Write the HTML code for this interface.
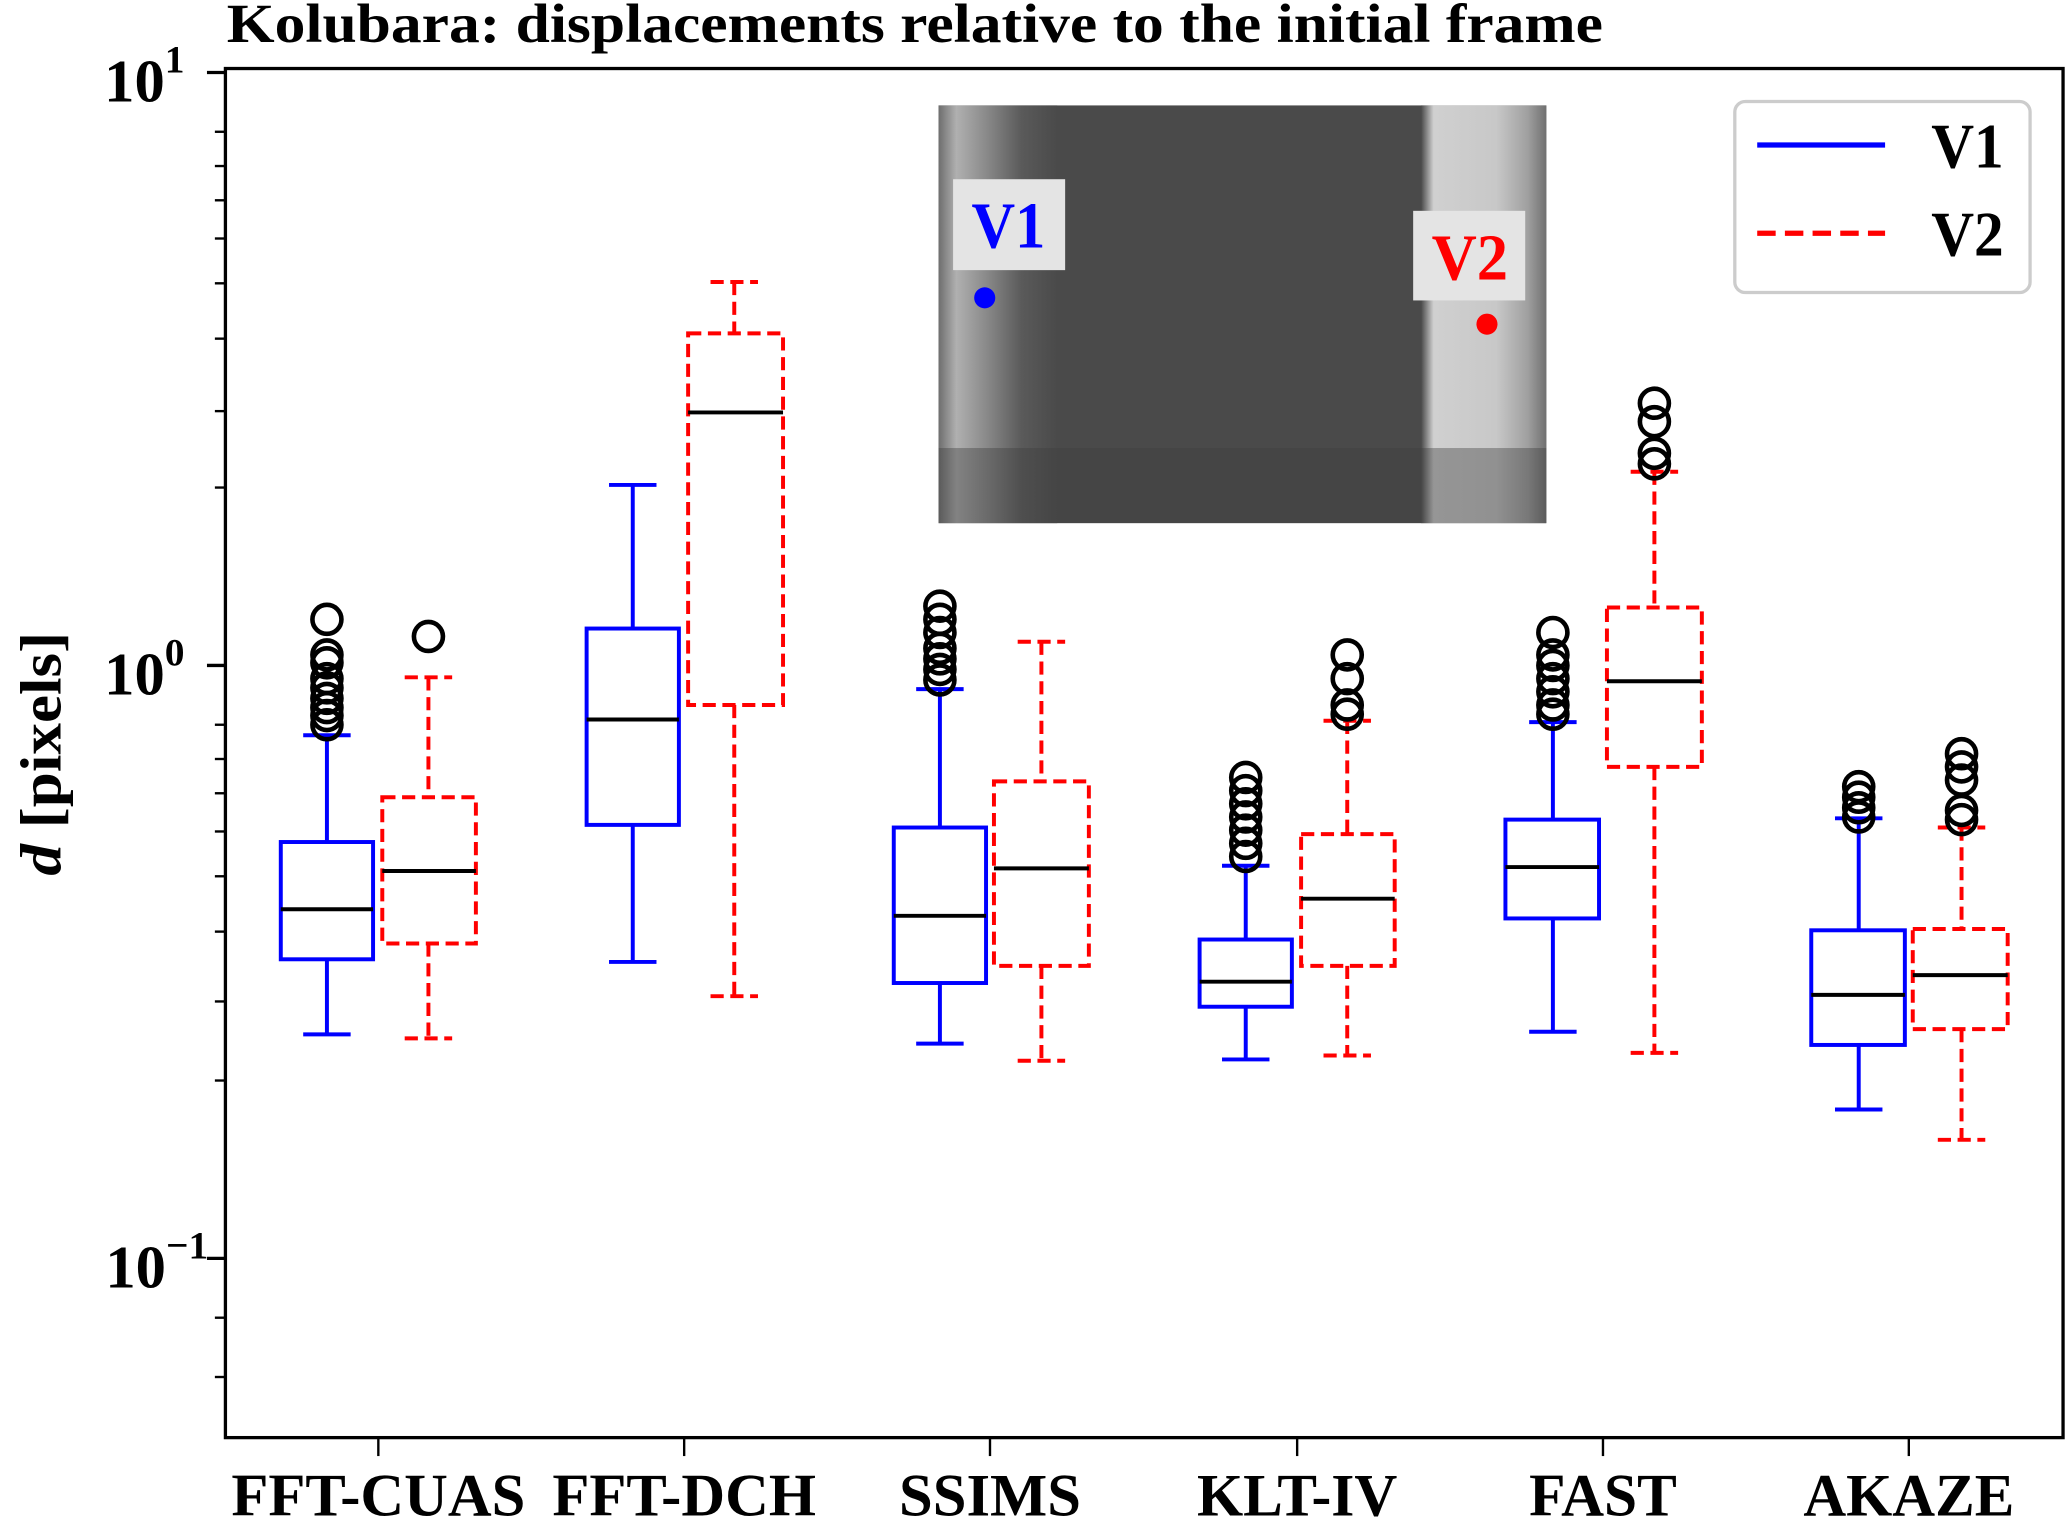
<!DOCTYPE html>
<html><head><meta charset="utf-8"><style>html,body{margin:0;padding:0;background:#fff}svg{display:block}</style></head>
<body>
<svg width="2067" height="1518" viewBox="0 0 1568 1152" preserveAspectRatio="none" xmlns="http://www.w3.org/2000/svg" font-family="Liberation Serif, serif" font-weight="bold">
<defs>
<linearGradient id="lw" x1="0" x2="1"><stop offset="0" stop-color="#6e6e6e"/><stop offset="0.15" stop-color="#b0b0b0"/><stop offset="0.4" stop-color="#8a8a8a"/><stop offset="0.7" stop-color="#5a5a5a"/><stop offset="1" stop-color="#4a4a4a"/></linearGradient>
<linearGradient id="rw" x1="0" x2="1"><stop offset="0" stop-color="#4a4a4a"/><stop offset="0.1" stop-color="#d0d0d0"/><stop offset="0.6" stop-color="#c8c8c8"/><stop offset="0.85" stop-color="#a0a0a0"/><stop offset="1" stop-color="#707070"/></linearGradient>
</defs>
<text x="172" y="32" font-size="42" textLength="1044" lengthAdjust="spacingAndGlyphs">Kolubara: displacements relative to the initial frame</text>
<!-- inset -->
<rect x="712" y="80" width="461" height="317" fill="#4a4a4a"/>
<rect x="712" y="80" width="90" height="317" fill="url(#lw)"/>
<rect x="1078" y="80" width="95" height="317" fill="url(#rw)"/>
<rect x="712" y="340" width="461" height="57" fill="#3f3f3f" opacity="0.4"/>
<rect x="723" y="136" width="85" height="69" fill="#e4e4e4"/>
<text x="765" y="188" font-size="50" fill="#0000ff" text-anchor="middle" textLength="56" lengthAdjust="spacingAndGlyphs">V1</text>
<circle cx="747" cy="226" r="8" fill="#0000ff"/>
<rect x="1072" y="160" width="85" height="68" fill="#e4e4e4"/>
<text x="1115" y="212" font-size="50" fill="#ff0000" text-anchor="middle" textLength="58" lengthAdjust="spacingAndGlyphs">V2</text>
<circle cx="1128" cy="246" r="8" fill="#ff0000"/>
<!-- axes -->
<rect x="171" y="52" width="1394" height="1039" fill="none" stroke="#000" stroke-width="2.5"/>
<g stroke="#000" stroke-width="2.5">
<line x1="157" y1="55" x2="171" y2="55"/><line x1="157" y1="505" x2="171" y2="505"/><line x1="157" y1="955" x2="171" y2="955"/>
</g>
<g stroke="#000" stroke-width="1.8">
<line x1="163" y1="100" x2="171" y2="100"/><line x1="163" y1="126" x2="171" y2="126"/><line x1="163" y1="152" x2="171" y2="152"/><line x1="163" y1="181" x2="171" y2="181"/><line x1="163" y1="215" x2="171" y2="215"/><line x1="163" y1="257" x2="171" y2="257"/><line x1="163" y1="312" x2="171" y2="312"/><line x1="163" y1="370" x2="171" y2="370"/>
<line x1="163" y1="550" x2="171" y2="550"/><line x1="163" y1="576" x2="171" y2="576"/><line x1="163" y1="602" x2="171" y2="602"/><line x1="163" y1="631" x2="171" y2="631"/><line x1="163" y1="665" x2="171" y2="665"/><line x1="163" y1="707" x2="171" y2="707"/><line x1="163" y1="760" x2="171" y2="760"/><line x1="163" y1="820" x2="171" y2="820"/>
<line x1="163" y1="1045" x2="171" y2="1045"/><line x1="163" y1="1000" x2="171" y2="1000"/>
<line x1="287" y1="1091" x2="287" y2="1105"/><line x1="519" y1="1091" x2="519" y2="1105"/><line x1="751" y1="1091" x2="751" y2="1105"/><line x1="984" y1="1091" x2="984" y2="1105"/><line x1="1216" y1="1091" x2="1216" y2="1105"/><line x1="1448" y1="1091" x2="1448" y2="1105"/>
</g>
<g font-size="46" text-anchor="end">
<text x="140" y="77">10<tspan font-size="30" dy="-22">1</tspan></text>
<text x="140" y="527">10<tspan font-size="30" dy="-22">0</tspan></text>
<text x="158" y="977">10<tspan font-size="30" dy="-22">−1</tspan></text>
</g>
<g font-size="46" text-anchor="middle" lengthAdjust="spacingAndGlyphs">
<text x="287" y="1150" textLength="223" lengthAdjust="spacingAndGlyphs">FFT-CUAS</text><text x="519" y="1150" textLength="200" lengthAdjust="spacingAndGlyphs">FFT-DCH</text><text x="751" y="1150" textLength="138" lengthAdjust="spacingAndGlyphs">SSIMS</text><text x="984" y="1150" textLength="152" lengthAdjust="spacingAndGlyphs">KLT-IV</text><text x="1216" y="1150" textLength="112" lengthAdjust="spacingAndGlyphs">FAST</text><text x="1448" y="1150" textLength="160" lengthAdjust="spacingAndGlyphs">AKAZE</text>
</g>
<text transform="translate(46,572) rotate(-90)" font-size="44" text-anchor="middle" textLength="185" lengthAdjust="spacingAndGlyphs"><tspan font-style="italic">d</tspan> [pixels]</text>
<!-- V1 boxes -->
<g stroke="#0000ff" stroke-width="3" fill="none">
<path d="M248 558V639M248 728V785M230 558H266M230 785H266"/><rect x="213" y="639" width="70" height="89"/>
<path d="M480 368V477M480 626V730M462 368H498M462 730H498"/><rect x="445" y="477" width="70" height="149"/>
<path d="M713 523V628M713 746V792M695 523H731M695 792H731"/><rect x="678" y="628" width="70" height="118"/>
<path d="M945 657V713M945 764V804M927 657H963M927 804H963"/><rect x="910" y="713" width="70" height="51"/>
<path d="M1178 548V622M1178 697V783M1160 548H1196M1160 783H1196"/><rect x="1142" y="622" width="71" height="75"/>
<path d="M1410 621V706M1410 793V842M1392 621H1428M1392 842H1428"/><rect x="1374" y="706" width="71" height="87"/>
</g>
<!-- V2 boxes -->
<g stroke="#ff0000" stroke-width="3" fill="none" stroke-dasharray="10,5">
<path d="M325 514V605M325 716V788M307 514H343M307 788H343"/><rect x="290" y="605" width="71" height="111"/>
<path d="M557 214V253M557 535V756M539 214H575M539 756H575"/><rect x="522" y="253" width="72" height="282"/>
<path d="M790 487V593M790 733V805M772 487H808M772 805H808"/><rect x="754" y="593" width="72" height="140"/>
<path d="M1022 547V633M1022 733V801M1004 547H1040M1004 801H1040"/><rect x="987" y="633" width="71" height="100"/>
<path d="M1255 358V461M1255 582V799M1237 358H1273M1237 799H1273"/><rect x="1219" y="461" width="72" height="121"/>
<path d="M1488 628V705M1488 781V865M1470 628H1506M1470 865H1506"/><rect x="1451" y="705" width="72" height="76"/>
</g>
<!-- medians -->
<g stroke="#000" stroke-width="3">
<path d="M213 690H283M290 661H361M445 546H515M522 313H594M678 695H748M754 659H826M910 745H980M987 682H1058M1142 658H1213M1219 517H1291M1374 755H1445M1451 740H1523"/>
</g>
<!-- outliers -->
<g stroke="#000" stroke-width="3.5" fill="none">
<circle cx="248" cy="470" r="11"/><circle cx="248" cy="497" r="11"/><circle cx="248" cy="503" r="11"/><circle cx="248" cy="515" r="11"/><circle cx="248" cy="522" r="11"/><circle cx="248" cy="530" r="11"/><circle cx="248" cy="537" r="11"/><circle cx="248" cy="543" r="11"/><circle cx="248" cy="550" r="11"/>
<circle cx="325" cy="483" r="11"/>
<circle cx="713" cy="460" r="11"/><circle cx="713" cy="470" r="11"/><circle cx="713" cy="480" r="11"/><circle cx="713" cy="492" r="11"/><circle cx="713" cy="500" r="11"/><circle cx="713" cy="508" r="11"/><circle cx="713" cy="516" r="11"/>
<circle cx="945" cy="590" r="11"/><circle cx="945" cy="600" r="11"/><circle cx="945" cy="610" r="11"/><circle cx="945" cy="620" r="11"/><circle cx="945" cy="630" r="11"/><circle cx="945" cy="640" r="11"/><circle cx="945" cy="650" r="11"/>
<circle cx="1022" cy="497" r="11"/><circle cx="1022" cy="515" r="11"/><circle cx="1022" cy="535" r="11"/><circle cx="1022" cy="542" r="11"/>
<circle cx="1178" cy="480" r="11"/><circle cx="1178" cy="497" r="11"/><circle cx="1178" cy="505" r="11"/><circle cx="1178" cy="515" r="11"/><circle cx="1178" cy="525" r="11"/><circle cx="1178" cy="535" r="11"/><circle cx="1178" cy="542" r="11"/>
<circle cx="1255" cy="306" r="11"/><circle cx="1255" cy="320" r="11"/><circle cx="1255" cy="344" r="11"/><circle cx="1255" cy="352" r="11"/>
<circle cx="1410" cy="597" r="11"/><circle cx="1410" cy="605" r="11"/><circle cx="1410" cy="613" r="11"/><circle cx="1410" cy="620" r="11"/>
<circle cx="1488" cy="572" r="11"/><circle cx="1488" cy="582" r="11"/><circle cx="1488" cy="592" r="11"/><circle cx="1488" cy="615" r="11"/><circle cx="1488" cy="622" r="11"/>
</g>
<!-- legend -->
<rect x="1316" y="77" width="224" height="145" rx="8" fill="#fff" stroke="#cccccc" stroke-width="2.5"/>
<line x1="1333" y1="110" x2="1430" y2="110" stroke="#0000ff" stroke-width="4"/>
<line x1="1333" y1="177" x2="1430" y2="177" stroke="#ff0000" stroke-width="4" stroke-dasharray="14,7"/>
<text x="1465" y="127" font-size="48" textLength="55" lengthAdjust="spacingAndGlyphs">V1</text>
<text x="1465" y="194" font-size="48" textLength="55" lengthAdjust="spacingAndGlyphs">V2</text>
</svg>
</body></html>
